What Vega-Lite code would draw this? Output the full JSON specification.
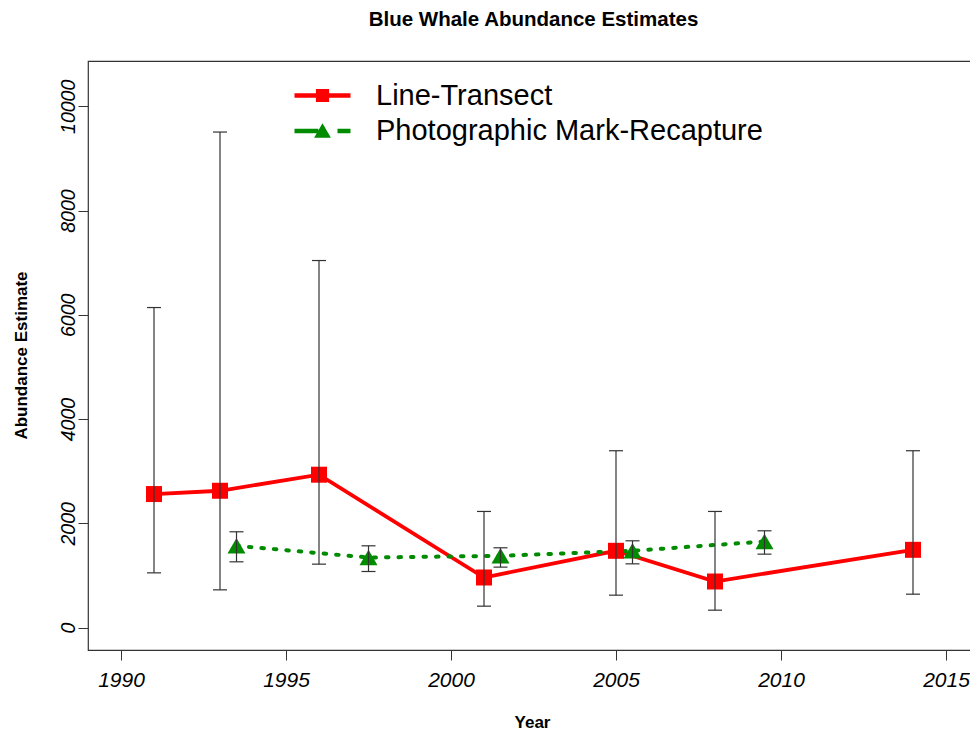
{
  "$schema": "https://vega.github.io/schema/vega-lite/v6.json",
  "autosize": "none",
  "padding": {"left": 88, "top": 61, "right": 0, "bottom": 83},
  "width": 891,
  "height": 589,
  "background": "white",
  "title": {
    "text": "Blue Whale Abundance Estimates",
    "font": "Liberation Sans",
    "fontSize": 20.5,
    "fontWeight": "bold",
    "color": "black",
    "anchor": "middle",
    "baseline": "alphabetic",
    "offset": 15
  },
  "data": {
    "values": [
      {"series": "Line-Transect", "year": 1991, "est": 2562, "lo": 1050, "hi": 6140},
      {"series": "Line-Transect", "year": 1993, "est": 2625, "lo": 724, "hi": 9507},
      {"series": "Line-Transect", "year": 1996, "est": 2933, "lo": 1217, "hi": 7042},
      {"series": "Line-Transect", "year": 2001, "est": 961, "lo": 411, "hi": 2228},
      {"series": "Line-Transect", "year": 2005, "est": 1473, "lo": 622, "hi": 3393},
      {"series": "Line-Transect", "year": 2008, "est": 884, "lo": 334, "hi": 2228},
      {"series": "Line-Transect", "year": 2014, "est": 1492, "lo": 641, "hi": 3393},
      {"series": "Photographic Mark-Recapture", "year": 1993.5, "est": 1569, "lo": 1262, "hi": 1838},
      {"series": "Photographic Mark-Recapture", "year": 1997.5, "est": 1344, "lo": 1076, "hi": 1569},
      {"series": "Photographic Mark-Recapture", "year": 2001.5, "est": 1377, "lo": 1160, "hi": 1531},
      {"series": "Photographic Mark-Recapture", "year": 2005.5, "est": 1473, "lo": 1223, "hi": 1665},
      {"series": "Photographic Mark-Recapture", "year": 2009.5, "est": 1652, "lo": 1409, "hi": 1857}
    ]
  },
  "encoding": {
    "x": {
      "field": "year",
      "type": "quantitative",
      "scale": {"domain": [1989, 2016], "nice": false, "zero": false},
      "axis": {
        "title": "Year",
        "values": [1990, 1995, 2000, 2005, 2010, 2015],
        "format": "d",
        "grid": false,
        "domain": false,
        "tickSize": 10,
        "tickColor": "#333",
        "tickWidth": 1,
        "labelFont": "Liberation Sans",
        "labelFontSize": 21,
        "labelFontStyle": "italic",
        "labelColor": "black",
        "labelPadding": 9,
        "titleFont": "Liberation Sans",
        "titleFontSize": 17,
        "titleFontWeight": "bold",
        "titleColor": "black",
        "titleX": 444,
        "titleY": 72,
        "titleBaseline": "middle"
      }
    },
    "y": {
      "field": "est",
      "type": "quantitative",
      "scale": {"domain": [-430, 10870], "nice": false, "zero": false},
      "axis": {
        "title": "Abundance Estimate",
        "values": [0, 2000, 4000, 6000, 8000, 10000],
        "format": "d",
        "grid": false,
        "domain": false,
        "tickSize": 10,
        "tickColor": "#333",
        "tickWidth": 1,
        "labelFont": "Liberation Sans",
        "labelFontSize": 19.5,
        "labelFontStyle": "italic",
        "labelColor": "black",
        "labelAngle": 270,
        "labelAlign": "center",
        "labelBaseline": "alphabetic",
        "labelPadding": 4,
        "titleFont": "Liberation Sans",
        "titleFontSize": 17,
        "titleFontWeight": "bold",
        "titleColor": "black",
        "titleAngle": 270,
        "titleX": -67,
        "titleY": 294,
        "titleAlign": "center",
        "titleBaseline": "middle"
      }
    }
  },
  "layer": [
    {
      "transform": [{"filter": "datum.series === 'Line-Transect'"}],
      "mark": {"type": "line", "strokeWidth": 3.8, "strokeCap": "round", "color": "#FF0000"}
    },
    {
      "transform": [{"filter": "datum.series === 'Photographic Mark-Recapture'"}],
      "mark": {"type": "line", "strokeWidth": 4, "strokeCap": "round", "color": "#008B00", "strokeDash": [2.5, 10]}
    },
    {
      "transform": [{"filter": "datum.series === 'Line-Transect'"}],
      "mark": {"type": "point", "filled": true, "opacity": 1, "strokeWidth": 0, "shape": "square", "size": 256, "color": "#FF0000"}
    },
    {
      "transform": [{"filter": "datum.series === 'Photographic Mark-Recapture'"}],
      "mark": {"type": "point", "filled": true, "opacity": 1, "strokeWidth": 0, "shape": "triangle-up", "size": 324, "color": "#008B00"}
    },
    {
      "mark": {"type": "point", "filled": true, "opacity": 0, "strokeWidth": 0},
      "encoding": {
        "color": {
          "field": "series",
          "type": "nominal",
          "scale": {"domain": ["Line-Transect", "Photographic Mark-Recapture"], "range": ["#FF0000", "#008B00"]},
          "legend": {
            "title": null,
            "orient": "none",
            "legendX": 220,
            "legendY": 20,
            "direction": "vertical",
            "padding": 0,
            "symbolSize": 784,
            "symbolStrokeWidth": 0,
            "symbolOpacity": 1,
            "labelFont": "Liberation Sans",
            "labelFontSize": 29,
            "labelColor": "black",
            "labelBaseline": "middle",
            "labelOffset": 39,
            "labelLimit": 600,
            "rowPadding": 5.5
          }
        },
        "shape": {
          "field": "series",
          "type": "nominal",
          "scale": {
            "domain": ["Line-Transect", "Photographic Mark-Recapture"],
            "range": [
              "M-2,-0.16H2V0.16H-2Z M-0.47,-0.47H0.47V0.47H-0.47Z",
              "M-2,-0.16H-0.3V0.16H-2Z M-0.6,0.48L0,-0.56L0.6,0.48Z M1.07,-0.16H2V0.16H1.07Z"
            ]
          },
          "legend": {
            "title": null,
            "orient": "none",
            "legendX": 220,
            "legendY": 20,
            "direction": "vertical",
            "padding": 0,
            "symbolSize": 784,
            "symbolStrokeWidth": 0,
            "symbolOpacity": 1,
            "labelFont": "Liberation Sans",
            "labelFontSize": 29,
            "labelColor": "black",
            "labelBaseline": "middle",
            "labelOffset": 39,
            "labelLimit": 600,
            "rowPadding": 5.5
          }
        }
      }
    },
    {
      "mark": {"type": "rule", "color": "#333", "strokeWidth": 1.2},
      "encoding": {
        "y": {"field": "lo", "type": "quantitative"},
        "y2": {"field": "hi"}
      }
    },
    {
      "mark": {"type": "tick", "orient": "horizontal", "color": "#333", "size": 14, "thickness": 1.2, "opacity": 1},
      "encoding": {
        "y": {"field": "lo", "type": "quantitative"}
      }
    },
    {
      "mark": {"type": "tick", "orient": "horizontal", "color": "#333", "size": 14, "thickness": 1.2, "opacity": 1},
      "encoding": {
        "y": {"field": "hi", "type": "quantitative"}
      }
    }
  ],
  "config": {
    "view": {"stroke": "#333", "strokeWidth": 1.2},
    "font": "Liberation Sans"
  }
}
